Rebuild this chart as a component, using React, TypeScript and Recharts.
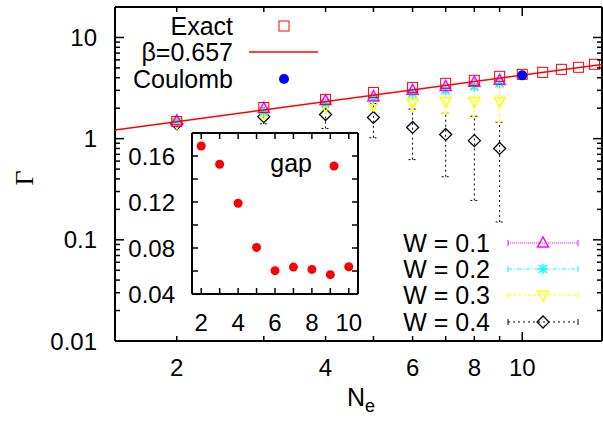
import React from 'react';
import { ScatterChart, Scatter, XAxis, YAxis, ErrorBar } from 'recharts';

const FONT = '"Liberation Sans", Arial, Helvetica, sans-serif';

// main panel: Gamma vs N_e (log-log)
const nExact = [2, 3, 4, 5, 6, 7, 8, 9, 10, 11, 12, 13, 14];
const gExact = [1.475, 2.03, 2.44, 2.86, 3.21, 3.52, 3.77, 4.13, 4.32, 4.52, 4.84, 5.07, 5.43];
const nFit = [1.5, 14.5];
const gFit = [1.22, 5.41];
const nCoulomb = [10];
const gCoulomb = [4.22];

const nW = [2, 3, 4, 5, 6, 7, 8, 9];
const gW01 = [1.5, 1.99, 2.38, 2.6, 3.0, 3.28, 3.6, 3.77];
const eW01 = [0.03, 0.04, 0.05, 0.06, 0.07, 0.08, 0.09, 0.1];
const gW02 = [1.46, 1.85, 2.23, 2.5, 2.8, 3.0, 3.28, 3.52];
const eW02 = [0.04, 0.06, 0.08, 0.1, 0.12, 0.14, 0.16, 0.2];
const gW03 = [1.43, 1.77, 2.08, 2.17, 2.28, 2.33, 2.33, 2.33];
const eW03 = [0.05, 0.1, 0.15, 0.25, 0.43, 0.56, 0.71, 0.86];
const gW04 = [1.4, 1.65, 1.73, 1.62, 1.29, 1.1, 0.955, 0.8];
const eW04 = [0.08, 0.25, 0.47, 0.6, 0.67, 0.68, 0.71, 0.65];

const xTicks = [2, 3, 4, 5, 6, 7, 8, 9, 10];
const xLabels = [2, 4, 6, 8, 10];
const yTicks = [
  0.01, 0.02, 0.03, 0.04, 0.05, 0.06, 0.07, 0.08, 0.09,
  0.1, 0.2, 0.3, 0.4, 0.5, 0.6, 0.7, 0.8, 0.9,
  1, 2, 3, 4, 5, 6, 7, 8, 9, 10, 20,
];
const yLabels = [0.01, 0.1, 1, 10];

// inset: gap vs N_e
const nGap = [2, 3, 4, 5, 6, 7, 8, 9, 10];
const gGap = [0.1687, 0.1528, 0.1189, 0.0805, 0.0603, 0.0634, 0.0614, 0.0568, 0.0637];
const insetXTicks = [2, 3, 4, 5, 6, 7, 8, 9, 10];
const insetXLabels = [2, 4, 6, 8, 10];
const insetYTicks = [0.04, 0.06, 0.08, 0.1, 0.12, 0.14, 0.16];
const insetYLabels = [0.04, 0.08, 0.12, 0.16];

const pts = (n: number[], g: number[], e?: number[]) =>
  n.map((v, i) => ({ n: v, g: g[i], e: e ? e[i] : 0 }));

const exactData = pts(nExact, gExact);
const fitData = pts(nFit, gFit);
const coulombData = pts(nCoulomb, gCoulomb);
const w01 = pts(nW, gW01, eW01);
const w02 = pts(nW, gW02, eW02);
const w03 = pts(nW, gW03, eW03);
const w04 = pts(nW, gW04, eW04);
const gapData = pts(nGap, gGap);

const MAGENTA = '#ff00ff';
const CYAN = '#00ffff';
const YELLOW = '#ffff00';
const RED = '#ff0000';

// markers
const Square = ({ cx, cy }: any) => (
  <rect x={cx - 5} y={cy - 5} width={10} height={10} fill="none" stroke={RED} strokeWidth={1} />
);
const TriUp = ({ cx, cy }: any) => (
  <polygon points={`${cx},${cy - 6} ${cx - 5.5},${cy + 4} ${cx + 5.5},${cy + 4}`} fill="none" stroke={MAGENTA} strokeWidth={1.5} />
);
const TriDown = ({ cx, cy }: any) => (
  <polygon points={`${cx},${cy + 6} ${cx - 5.5},${cy - 4} ${cx + 5.5},${cy - 4}`} fill="none" stroke={YELLOW} strokeWidth={1.5} />
);
const Star = ({ cx, cy }: any) => (
  <g stroke={CYAN} strokeWidth={1.5}>
    <line x1={cx - 5} y1={cy} x2={cx + 5} y2={cy} />
    <line x1={cx} y1={cy - 5} x2={cx} y2={cy + 5} />
    <line x1={cx - 4} y1={cy - 4} x2={cx + 4} y2={cy + 4} />
    <line x1={cx - 4} y1={cy + 4} x2={cx + 4} y2={cy - 4} />
  </g>
);
const Diamond = ({ cx, cy }: any) => (
  <polygon points={`${cx},${cy - 6} ${cx + 6},${cy} ${cx},${cy + 6} ${cx - 6},${cy}`} fill="none" stroke="#000" strokeWidth={1.3} />
);
const BlueDot = ({ cx, cy }: any) => <circle cx={cx} cy={cy} r={5} fill="#0000ff" />;
const RedDot = ({ cx, cy }: any) => <circle cx={cx} cy={cy} r={4.5} fill={RED} />;

const txt = { fontFamily: FONT, fill: '#000' };

// axis ticks, drawn inward like gnuplot
const BottomTick = ({ x, y, payload }: any) => {
  const v = payload.value;
  return (
    <g>
      <line x1={x} y1={y} x2={x} y2={y - (v === 10 ? 9 : 5)} stroke="#000" strokeWidth={1.5} />
      {xLabels.includes(v) && (
        <text x={x} y={y + 26} textAnchor="middle" dominantBaseline="central" fontSize={24} {...txt}>{v}</text>
      )}
    </g>
  );
};
const TopTick = ({ x, y, payload }: any) => (
  <line x1={x} y1={y} x2={x} y2={y + (payload.value === 10 ? 9 : 5)} stroke="#000" strokeWidth={1.5} />
);
const LeftTick = ({ x, y, payload }: any) => {
  const v = payload.value;
  const major = yLabels.includes(v);
  return (
    <g>
      <line x1={x} y1={y} x2={x + (major ? 9 : 5)} y2={y} stroke="#000" strokeWidth={1.5} />
      {major && (
        <text x={x - 18} y={y} textAnchor="end" dominantBaseline="central" fontSize={24} {...txt}>{v}</text>
      )}
    </g>
  );
};
const RightTick = ({ x, y, payload }: any) => (
  <line x1={x} y1={y} x2={x - (yLabels.includes(payload.value) ? 9 : 5)} y2={y} stroke="#000" strokeWidth={1.5} />
);

const InsetBottomTick = ({ x, y, payload }: any) => {
  const v = payload.value;
  return (
    <g>
      <line x1={x} y1={y} x2={x} y2={y - 6} stroke="#000" strokeWidth={1.5} />
      {insetXLabels.includes(v) && (
        <text x={x} y={y + 28} textAnchor="middle" dominantBaseline="central" fontSize={24} {...txt}>{v}</text>
      )}
    </g>
  );
};
const InsetTopTick = ({ x, y }: any) => (
  <line x1={x} y1={y} x2={x} y2={y + 6} stroke="#000" strokeWidth={1.5} />
);
const InsetLeftTick = ({ x, y, payload }: any) => {
  const v = payload.value;
  return (
    <g>
      <line x1={x} y1={y} x2={x + 6} y2={y} stroke="#000" strokeWidth={1.5} />
      {insetYLabels.includes(v) && (
        <text x={x - 17} y={y} textAnchor="end" dominantBaseline="central" fontSize={24} {...txt}>{v.toFixed(2)}</text>
      )}
    </g>
  );
};
const InsetRightTick = ({ x, y }: any) => (
  <line x1={x} y1={y} x2={x - 6} y2={y} stroke="#000" strokeWidth={1.5} />
);

const frame = { stroke: '#000', strokeWidth: 2 };

const WLegendRow = ({ y, label, color, dash, Marker }: any) => (
  <g>
    <text x={490} y={y} textAnchor="end" dominantBaseline="central" fontSize={25} {...txt}>{label}</text>
    <line x1={508} y1={y} x2={578} y2={y} stroke={color} strokeWidth={1} strokeDasharray={dash} />
    <line x1={508} y1={y - 3} x2={508} y2={y + 3} stroke={color} strokeWidth={1} />
    <line x1={578} y1={y - 3} x2={578} y2={y + 3} stroke={color} strokeWidth={1} />
    <Marker cx={543} cy={y} />
  </g>
);

export default function App() {
  return (
    <div style={{ position: 'absolute', left: 0, top: 0, width: 603, height: 424, background: '#fff' }}>
      <ScatterChart width={603} height={424} margin={{ top: 0, right: 0, bottom: 0, left: 0 }}>
        <XAxis xAxisId="b" type="number" dataKey="n" scale="log" domain={[1.5, 14.5]} allowDataOverflow
          ticks={xTicks} interval={0} tick={<BottomTick />} tickLine={false} tickSize={0} tickMargin={0}
          height={83} axisLine={frame} />
        <XAxis xAxisId="t" orientation="top" type="number" dataKey="n" scale="log" domain={[1.5, 14.5]} allowDataOverflow
          ticks={xTicks} interval={0} tick={<TopTick />} tickLine={false} tickSize={0} tickMargin={0}
          height={7} axisLine={frame} />
        <YAxis yAxisId="l" type="number" dataKey="g" scale="log" domain={[0.01, 20]} allowDataOverflow
          ticks={yTicks} interval={0} tick={<LeftTick />} tickLine={false} tickSize={0} tickMargin={0}
          width={115} axisLine={frame} />
        <YAxis yAxisId="r" orientation="right" type="number" dataKey="g" scale="log" domain={[0.01, 20]} allowDataOverflow
          ticks={yTicks} interval={0} tick={<RightTick />} tickLine={false} tickSize={0} tickMargin={0}
          width={1} axisLine={frame} />

        <Scatter xAxisId="b" yAxisId="l" data={w04} shape={(p: any) => <Diamond {...p} />} isAnimationActive={false}>
          <ErrorBar dataKey="e" direction="y" width={4} stroke="#000" strokeWidth={1} strokeDasharray="2 3" isAnimationActive={false} />
        </Scatter>
        <Scatter xAxisId="b" yAxisId="l" data={w03} shape={(p: any) => <TriDown {...p} />} isAnimationActive={false}>
          <ErrorBar dataKey="e" direction="y" width={4} stroke={YELLOW} strokeWidth={1} strokeDasharray="3 2" isAnimationActive={false} />
        </Scatter>
        <Scatter xAxisId="b" yAxisId="l" data={w02} shape={(p: any) => <Star {...p} />} isAnimationActive={false}>
          <ErrorBar dataKey="e" direction="y" width={4} stroke={CYAN} strokeWidth={1} strokeDasharray="4 2 1 2" isAnimationActive={false} />
        </Scatter>
        <Scatter xAxisId="b" yAxisId="l" data={w01} shape={(p: any) => <TriUp {...p} />} isAnimationActive={false}>
          <ErrorBar dataKey="e" direction="y" width={4} stroke={MAGENTA} strokeWidth={1} strokeDasharray="1 1" isAnimationActive={false} />
        </Scatter>
        <Scatter xAxisId="b" yAxisId="l" data={exactData} shape={(p: any) => <Square {...p} />} isAnimationActive={false} />
        <Scatter xAxisId="b" yAxisId="l" data={fitData} line={{ stroke: RED, strokeWidth: 1.5 }} shape={() => <g />} isAnimationActive={false} />
        <Scatter xAxisId="b" yAxisId="l" data={coulombData} shape={(p: any) => <BlueDot {...p} />} isAnimationActive={false} />
      </ScatterChart>

      <div style={{ position: 'absolute', left: 110, top: 125 }}>
        <ScatterChart width={260} height={215} margin={{ top: 0, right: 0, bottom: 0, left: 0 }}>
          <XAxis xAxisId="b" type="number" dataKey="n" domain={[1.5, 10.5]} allowDataOverflow
            ticks={insetXTicks} interval={0} tick={<InsetBottomTick />} tickLine={false} tickSize={0} tickMargin={0}
            height={46} axisLine={frame} />
          <XAxis xAxisId="t" orientation="top" type="number" dataKey="n" domain={[1.5, 10.5]} allowDataOverflow
            ticks={insetXTicks} interval={0} tick={<InsetTopTick />} tickLine={false} tickSize={0} tickMargin={0}
            height={8} axisLine={frame} />
          <YAxis yAxisId="l" type="number" dataKey="g" domain={[0.04, 0.18]} allowDataOverflow
            ticks={insetYTicks} interval={0} tick={<InsetLeftTick />} tickLine={false} tickSize={0} tickMargin={0}
            width={82} axisLine={frame} />
          <YAxis yAxisId="r" orientation="right" type="number" dataKey="g" domain={[0.04, 0.18]} allowDataOverflow
            ticks={insetYTicks} interval={0} tick={<InsetRightTick />} tickLine={false} tickSize={0} tickMargin={0}
            width={12} axisLine={frame} />
          <Scatter xAxisId="b" yAxisId="l" data={gapData} shape={(p: any) => <RedDot {...p} />} isAnimationActive={false} />
        </ScatterChart>
      </div>

      <svg width={603} height={424} style={{ position: 'absolute', left: 0, top: 0, pointerEvents: 'none' }}>
        {/* axis titles */}
        <text x={24} y={178} transform="rotate(-90 24 178)" textAnchor="middle" dominantBaseline="central"
          fontSize={26} fontFamily='"Liberation Serif", "DejaVu Serif", serif' fill="#000">Γ</text>
        <text x={347} y={397} dominantBaseline="central" fontSize={25} {...txt}>
          N<tspan fontSize={18} dy={9}>e</tspan>
        </text>

        {/* top-left key */}
        <text x={233} y={26} textAnchor="end" dominantBaseline="central" fontSize={25} {...txt}>Exact</text>
        <Square cx={284} cy={26} />
        <text x={233} y={52} textAnchor="end" dominantBaseline="central" fontSize={25} {...txt}>β=0.657</text>
        <line x1={249} y1={52} x2={318} y2={52} stroke={RED} strokeWidth={1.5} />
        <text x={233} y={79} textAnchor="end" dominantBaseline="central" fontSize={25} {...txt}>Coulomb</text>
        <BlueDot cx={284} cy={79} />

        {/* bottom-right key */}
        <WLegendRow y={243} label="W = 0.1" color={MAGENTA} dash="1 1" Marker={TriUp} />
        <WLegendRow y={269} label="W = 0.2" color={CYAN} dash="4 2 1 2" Marker={Star} />
        <WLegendRow y={295} label="W = 0.3" color={YELLOW} dash="3 2" Marker={TriDown} />
        <WLegendRow y={322} label="W = 0.4" color="#000" dash="2 3" Marker={Diamond} />

        {/* inset key */}
        <text x={312} y={163} textAnchor="end" dominantBaseline="central" fontSize={25} {...txt}>gap</text>
        <RedDot cx={334} cy={166} />
      </svg>
    </div>
  );
}
